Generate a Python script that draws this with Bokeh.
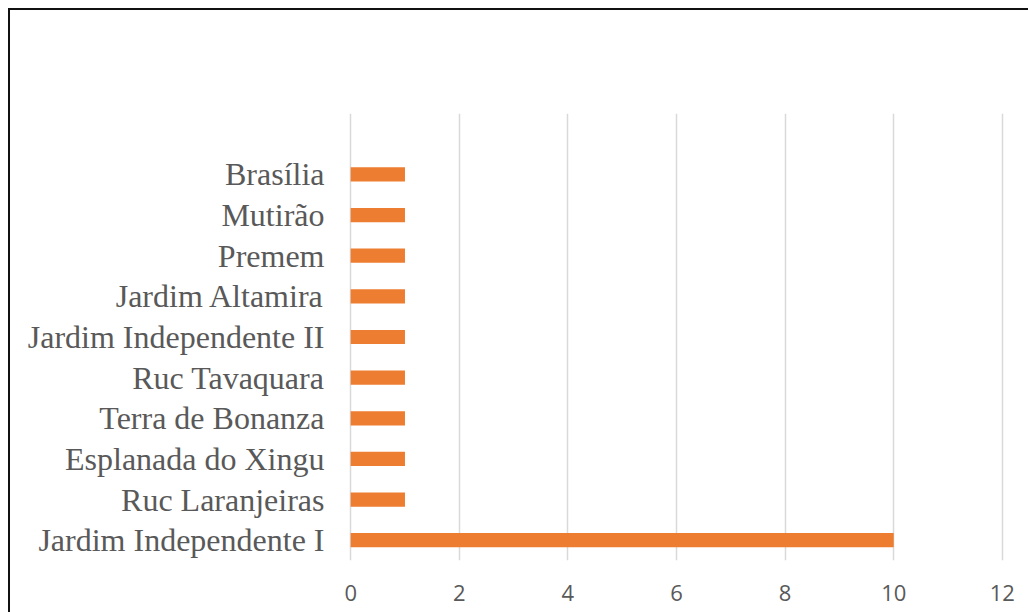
from bokeh.plotting import figure
from bokeh.models import FactorRange, Range1d, FixedTicker
from bokeh.embed import file_html
from bokeh.resources import INLINE

# Data (bottom to top)
categories = ["Jardim Independente I", "Ruc Laranjeiras", "Esplanada do Xingu",
              "Terra de Bonanza", "Ruc Tavaquara", "Jardim Independente II",
              "Jardim Altamira", "Premem", "Mutirão", "Brasília"]
values = [10, 1, 1, 1, 1, 1, 1, 1, 1, 1]
x_ticks = [0, 2, 4, 6, 8, 10, 12]

factors = categories + [" "]

p = figure(y_range=FactorRange(factors=factors, range_padding=0),
           x_range=Range1d(-0.04, 12.04),
           frame_width=656, frame_height=447,
           min_border_left=338, min_border_top=103,
           min_border_right=24, min_border_bottom=52,
           output_backend="svg", toolbar_location=None)

p.styles = {"margin-left": "8px", "margin-top": "8px",
            "border-left": "2px solid #111111", "border-top": "2px solid #111111"}

p.hbar(y=categories, right=values, left=0, height=0.35,
       fill_color="#ED7D31", line_color=None)

p.outline_line_color = None
p.background_fill_color = "white"
p.border_fill_color = "white"

p.xgrid.grid_line_color = "#D9D9D9"
p.xgrid.grid_line_width = 1.5
p.xgrid.ticker = FixedTicker(ticks=x_ticks)
p.ygrid.grid_line_color = None

p.xaxis.ticker = FixedTicker(ticks=x_ticks)
p.xaxis.axis_line_color = None
p.xaxis.major_tick_line_color = None
p.xaxis.minor_tick_line_color = None
p.xaxis.major_label_text_font = "Open Sans"
p.xaxis.major_label_text_font_size = "22px"
p.xaxis.major_label_text_color = "#595959"
p.xaxis.major_label_standoff = 18

p.yaxis.axis_line_color = None
p.yaxis.major_tick_line_color = None
p.yaxis.major_label_text_font = "Liberation Serif"
p.yaxis.major_label_text_font_size = "32px"
p.yaxis.major_label_text_color = "#595959"
p.yaxis.major_label_standoff = 18

open("out.html", "w").write(file_html(p, INLINE))
